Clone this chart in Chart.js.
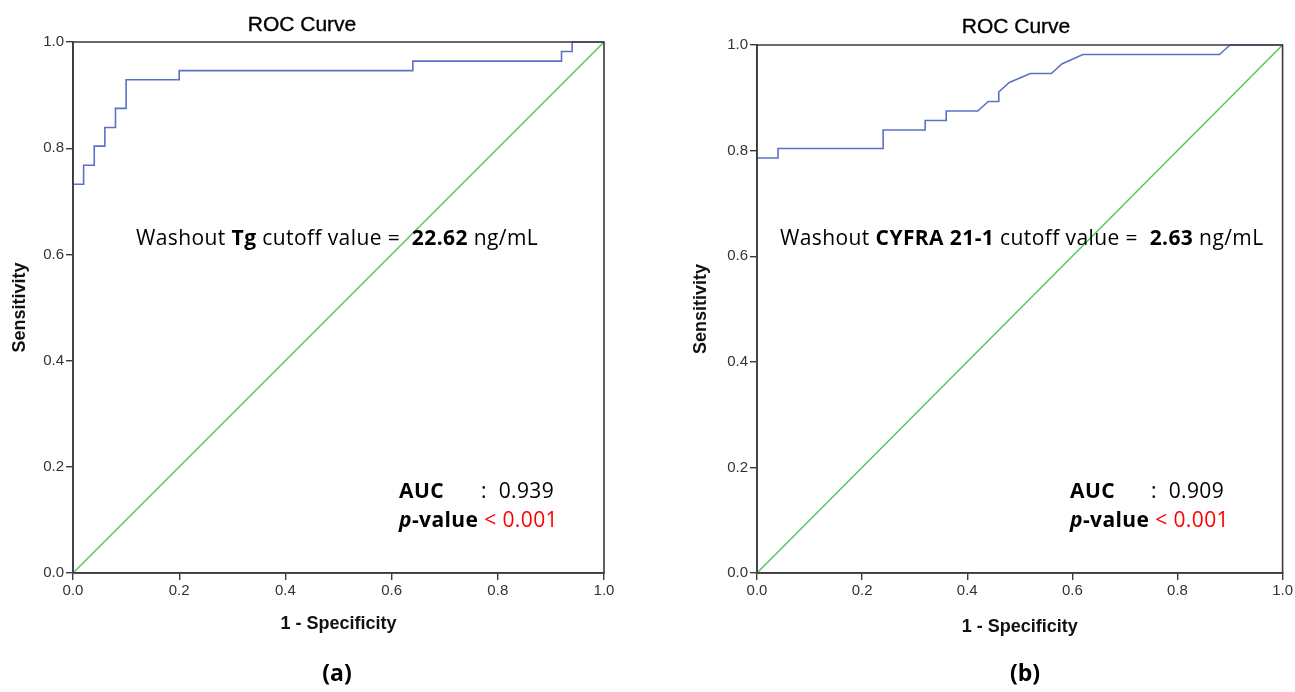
<!DOCTYPE html>
<html>
<head>
<meta charset="utf-8">
<script src="https://cdn.jsdelivr.net/npm/chart.js@4.4.1/dist/chart.umd.min.js"></script>
<style>
  html, body { margin: 0; padding: 0; background: #fff; }
  body { width: 1295px; height: 692px; position: relative; overflow: hidden; }
  .wrap { position: absolute; top: 0; }
  .txt { position: absolute; white-space: pre; color: #000; }
  .ttl { font-family: "Liberation Sans", Arial, sans-serif; font-size: 21px; transform: translateX(-50%); line-height: 20px; -webkit-text-stroke: 0.35px #000; }
  .ann { font-family: "Open Sans", sans-serif; font-size: 21px; letter-spacing: 0.4px; line-height: 22px; }
  .cap { font-family: "Open Sans", sans-serif; font-size: 23px; font-weight: bold; transform: translateX(-50%); line-height: 24px; }
  .red { color: #ff0000; }
</style>
</head>
<body>
<div class="wrap" style="left:0px;width:640px;height:692px;"><canvas id="c1" width="640" height="692"></canvas></div>
<div class="wrap" style="left:680px;width:615px;height:692px;"><canvas id="c2" width="615" height="692"></canvas></div>

<div class="txt ttl" style="left:302px;top:14px;">ROC Curve</div>
<div class="txt ttl" style="left:1016px;top:16px;">ROC Curve</div>

<div class="txt ann" style="left:136px;top:226px;">Washout <b>Tg</b> cutoff value =  <b>22.62</b> ng/mL</div>
<div class="txt ann" style="left:780px;top:226px;">Washout <b>CYFRA 21-1</b> cutoff value =  <b>2.63</b> ng/mL</div>

<div class="txt ann" style="left:399px;top:479px;"><b>AUC</b></div>
<div class="txt ann" style="left:481px;top:479px;">:  0.939</div>
<div class="txt ann" style="left:399px;top:508px;"><b><i>p</i>-value</b> <span class="red">&lt; 0.001</span></div>

<div class="txt ann" style="left:1070px;top:479px;"><b>AUC</b></div>
<div class="txt ann" style="left:1151px;top:479px;">:  0.909</div>
<div class="txt ann" style="left:1070px;top:508px;"><b><i>p</i>-value</b> <span class="red">&lt; 0.001</span></div>

<div class="txt cap" style="left:337px;top:660px;">(a)</div>
<div class="txt cap" style="left:1025px;top:660px;">(b)</div>

<script>
// ---- Data ----
const tickValues = [0, 0.2, 0.4, 0.6, 0.8, 1.0];
const diagX = [0, 1];
const diagY = [0, 1];

// (a) Washout Tg
const tgFpr = [0, 0, 0.02, 0.02, 0.04, 0.04, 0.06, 0.06, 0.08, 0.08, 0.10, 0.10, 0.20, 0.20, 0.64, 0.64, 0.92, 0.92, 0.94, 0.94, 1.0];
const tgTpr = [0, 0.732, 0.732, 0.768, 0.768, 0.804, 0.804, 0.839, 0.839, 0.875, 0.875, 0.929, 0.929, 0.946, 0.946, 0.964, 0.964, 0.982, 0.982, 1.0, 1.0];

// (b) Washout CYFRA 21-1
const cyFpr = [0, 0, 0.04, 0.04, 0.24, 0.24, 0.32, 0.32, 0.36, 0.36, 0.42, 0.44, 0.46, 0.46, 0.48, 0.52, 0.56, 0.58, 0.62, 0.88, 0.90, 1.0];
const cyTpr = [0, 0.786, 0.786, 0.804, 0.804, 0.839, 0.839, 0.857, 0.857, 0.875, 0.875, 0.893, 0.893, 0.911, 0.929, 0.946, 0.946, 0.964, 0.982, 0.982, 1.0, 1.0];

const CURVE = '#5b72c4';
const DIAG = '#55c65e';
const AXIS = '#3a3a3a';

function pts(xs, ys) { return xs.map((x, i) => ({ x: x, y: ys[i] })); }

const boxPlugin = {
  id: 'box',
  afterDatasetsDraw(chart) {
    const a = chart.chartArea, ctx = chart.ctx;
    ctx.save();
    ctx.strokeStyle = AXIS;
    ctx.lineWidth = 1.6;
    ctx.beginPath();
    ctx.moveTo(a.left, a.bottom);
    ctx.lineTo(a.left, a.top);
    ctx.lineTo(a.right, a.top);
    ctx.lineTo(a.right, a.bottom);
    ctx.lineTo(a.left, a.bottom);
    ctx.stroke();
    ctx.restore();
  }
};

function makeChart(id, fpr, tpr, cfg) {
  const tickFont = { family: '"Liberation Sans", Arial, sans-serif', size: 15 };
  const titleFont = { family: '"Liberation Sans", Arial, sans-serif', size: 18, weight: 'bold' };
  return new Chart(document.getElementById(id), {
    type: 'scatter',
    data: {
      datasets: [
        { data: pts(diagX, diagY), showLine: true, borderColor: DIAG, borderWidth: 1.5, pointRadius: 0, clip: false, order: 2 },
        { data: pts(fpr, tpr), showLine: true, borderColor: CURVE, borderWidth: 1.6, pointRadius: 0, clip: false, order: 1 }
      ]
    },
    options: {
      responsive: false,
      animation: false,
      events: [],
      layout: { padding: { left: 0, right: cfg.padRight, top: cfg.padTop, bottom: 52 } },
      plugins: { legend: { display: false }, tooltip: { enabled: false } },
      scales: {
        x: {
          type: 'linear', min: 0, max: 1,
          afterFit(s) { s.height = 640 - cfg.bottom; },
          afterBuildTicks(s) { s.ticks = tickValues.map(v => ({ value: v })); },
          ticks: { font: tickFont, color: '#333', padding: 2, maxRotation: 0, callback: v => v.toFixed(1) },
          grid: { drawOnChartArea: false, drawTicks: true, tickLength: 7, color: AXIS, lineWidth: 1.4 },
          border: { display: true, color: AXIS, width: 1.6 },
          title: { display: true, text: '1 - Specificity', font: titleFont, color: '#111', padding: { top: 0, bottom: cfg.xTitlePad } }
        },
        y: {
          type: 'linear', min: 0, max: 1,
          afterFit(s) { s.width = cfg.left; },
          afterBuildTicks(s) { s.ticks = tickValues.map(v => ({ value: v })); },
          ticks: { font: tickFont, color: '#333', padding: 2, callback: v => v.toFixed(1) },
          grid: { drawOnChartArea: false, drawTicks: true, tickLength: 7, color: AXIS, lineWidth: 1.4 },
          border: { display: true, color: AXIS, width: 1.6 },
          title: { display: true, text: 'Sensitivity', font: titleFont, color: '#111', padding: { top: cfg.yTitlePad, bottom: 0 } }
        }
      }
    },
    plugins: [boxPlugin]
  });
}

makeChart('c1', tgFpr, tgTpr, { left: 73, padRight: 36, padTop: 42, bottom: 573, xTitlePad: 5, yTitlePad: 9 });
makeChart('c2', cyFpr, cyTpr, { left: 77, padRight: 12, padTop: 45, bottom: 573, xTitlePad: 2, yTitlePad: 10 });
</script>
</body>
</html>
